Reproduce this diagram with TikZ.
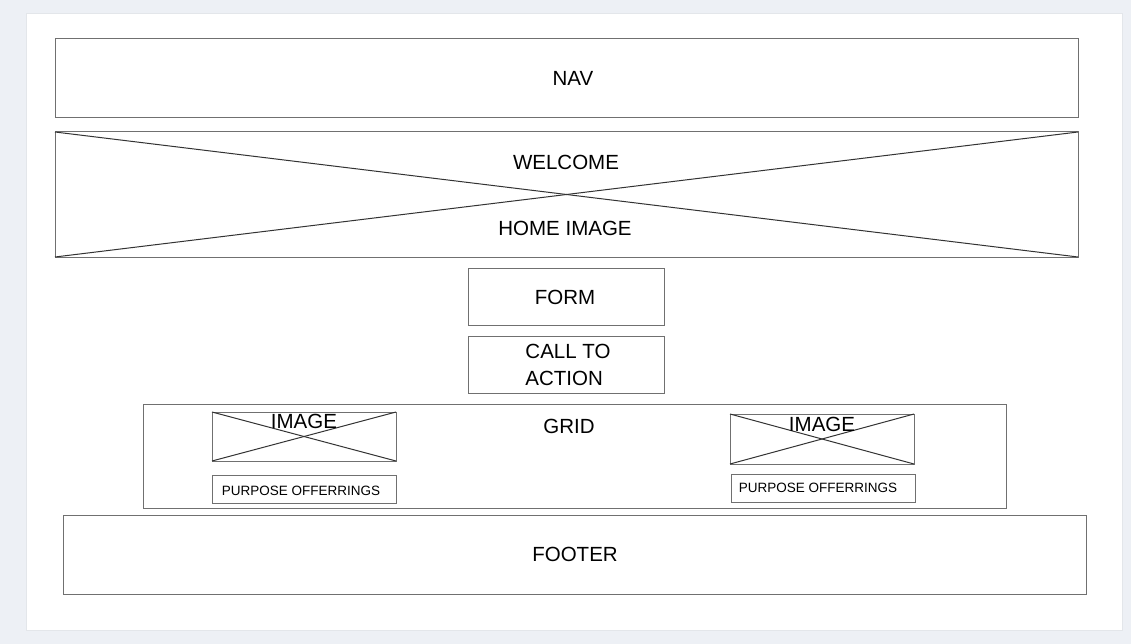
\documentclass[tikz,border=0pt]{standalone}
\usepackage{fontspec}
\setmainfont{Liberation Sans}
\definecolor{bgc}{HTML}{EDF0F5}
\definecolor{pageedge}{HTML}{E3E6EA}
\definecolor{boxc}{HTML}{707070}
\definecolor{xc}{HTML}{333333}
\begin{document}
\begin{tikzpicture}[x=1pt,y=-1pt,
  wbox/.style={draw=boxc,line width=1pt,fill=white},
  xline/.style={draw=xc,line width=1pt},
  big/.style={font=\fontsize{20.5}{24}\selectfont,inner sep=0pt},
  small/.style={font=\fontsize{13.5}{16}\selectfont,inner sep=0pt}]
\fill[bgc] (0,0) rectangle (1131,644);
\useasboundingbox (0,0) rectangle (1131,644);
\fill[white,draw=pageedge,line width=1pt] (26,13.5) rectangle (1122.5,630);
% NAV
\draw[wbox] (55,39) rectangle (1078,118);
\node[big] (nav) at (573,78) {NAV};
% hero
\draw[wbox] (55,132) rectangle (1078,257);
\coordinate (h1) at (55,132); \coordinate (h2) at (1078,257);
\coordinate (h3) at (55,257); \coordinate (h4) at (1078,132);
\draw[xline] (h1) -- (h2);
\draw[xline] (h3) -- (h4);
\node[big] (welcome) at (566,162) {WELCOME};
\node[big] (home) at (565,228) {HOME IMAGE};
% form
\draw[wbox] (468,268) rectangle (664,325);
\node[big] (form) at (565,297) {FORM};
% cta
\draw[wbox] (468,336) rectangle (664,393);
\node[big,align=left,font=\fontsize{20.5}{27}\selectfont] (cta) at (568,364.5) {CALL TO\\ACTION};
% grid
\draw[wbox] (143,404) rectangle (1006,508);
\node[big] (grid) at (569,426) {GRID};
% image 1
\draw[wbox] (212,412) rectangle (396,461);
\coordinate (a1) at (212,412); \coordinate (a2) at (396,461);
\coordinate (a3) at (212,461); \coordinate (a4) at (396,412);
\draw[xline] (a1) -- (a2);
\draw[xline] (a3) -- (a4);
\node[big] (img1) at (304,421.5) {IMAGE};
\draw[wbox] (212,475) rectangle (396,503);
\node[small] (po1) at (301,491) {PURPOSE OFFERRINGS};
% image 2
\draw[wbox] (730,414) rectangle (914,464);
\coordinate (b1) at (730,414); \coordinate (b2) at (914,464);
\coordinate (b3) at (730,464); \coordinate (b4) at (914,414);
\draw[xline] (b1) -- (b2);
\draw[xline] (b3) -- (b4);
\node[big] (img2) at (822,424) {IMAGE};
\draw[wbox] (731,474) rectangle (915,502);
\node[small] (po2) at (818,488) {PURPOSE OFFERRINGS};
% footer
\draw[wbox] (63,515) rectangle (1086,594);
\node[big] (footer) at (575,554) {FOOTER};
\end{tikzpicture}
\end{document}
